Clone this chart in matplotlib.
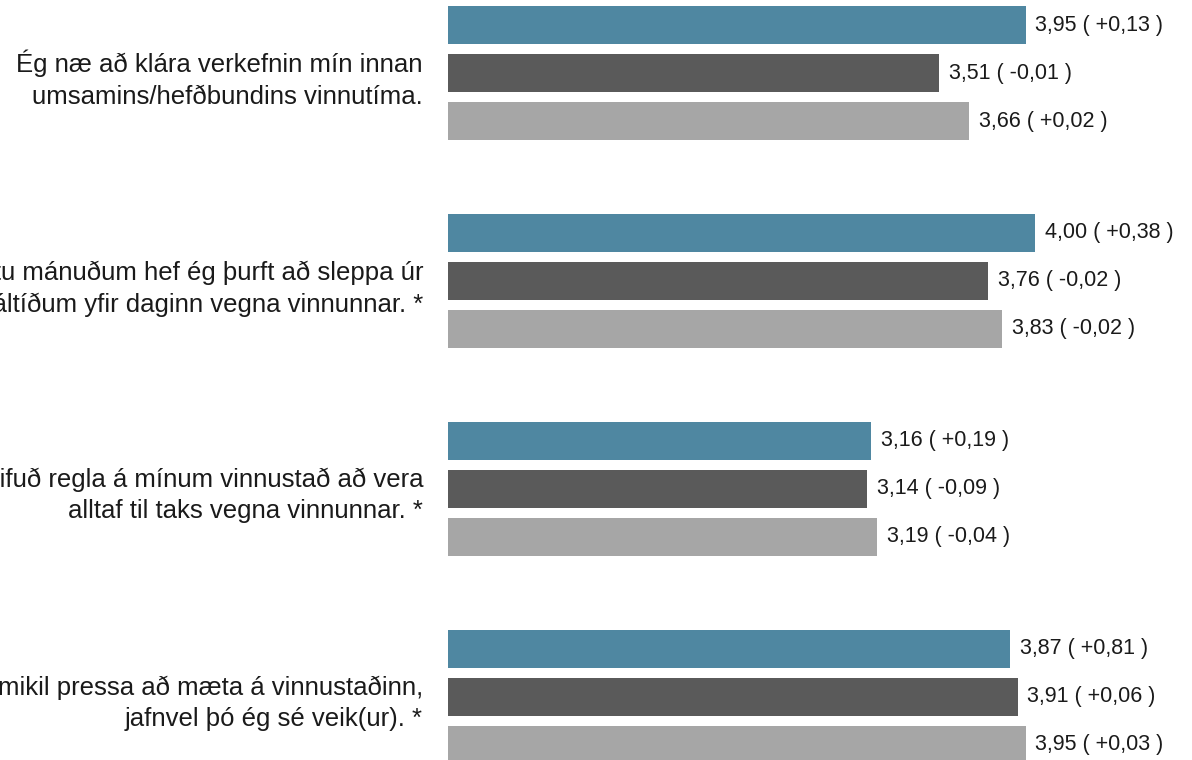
import numpy as np
import matplotlib
matplotlib.use('Agg')
import matplotlib.pyplot as plt

plt.rcParams['font.family'] = ['Liberation Sans', 'DejaVu Sans']

# questions (left part is cut off in the original picture)
questions = [
    'Ég næ að klára verkefnin mín innan\numsamins/hefðbundins vinnutíma.',
    'Á síðustu mánuðum hef ég þurft að sleppa úr\nmáltíðum yfir daginn vegna vinnunnar. *',
    'Það er óskrifuð regla á mínum vinnustað að vera\nalltaf til taks vegna vinnunnar. *',
    'Það er mikil pressa að mæta á vinnustaðinn,\njafnvel þó ég sé veik(ur). *',
]

# three series per question: mean and change from last survey
series_a = [3.95, 4.00, 3.16, 3.87]
series_b = [3.51, 3.76, 3.14, 3.91]
series_c = [3.66, 3.83, 3.19, 3.95]
change_a = ['+0,13', '+0,38', '+0,19', '+0,81']
change_b = ['-0,01', '-0,02', '-0,09', '+0,06']
change_c = ['+0,02', '-0,02', '-0,04', '+0,03']

colors = ['#4f87a1', '#5a5a5a', '#a6a6a6']

fig = plt.figure(figsize=(11.92, 7.60), dpi=100)
ax = fig.add_axes([448 / 1192, 0, 1 - 448 / 1192, 1])

y = np.arange(len(questions))
bar_h = 38 / 208
step = 48 / 208

all_vals = [series_a, series_b, series_c]
all_chg = [change_a, change_b, change_c]
for k in range(3):
    pos = y + (k - 1) * step
    ax.barh(pos, np.array(all_vals[k]) - 1, left=1, height=bar_h,
            color=colors[k], edgecolor='none')
    for p, v, c in zip(pos, all_vals[k], all_chg[k]):
        txt = f'{v:.2f}'.replace('.', ',') + f' ( {c} )'
        ax.annotate(txt, (v, p), xytext=(7, 0), textcoords='offset points',
                    va='center', ha='left', fontsize=15.5, color='#1a1a1a')

ax.set_xlim(1, 4.80)
ax.set_ylim(3.303, -0.351)
ax.set_yticks(y)
ax.set_yticklabels(questions, fontsize=18.5, color='#1a1a1a', linespacing=1.4)
ax.tick_params(axis='y', length=0, pad=18)
ax.set_xticks([])
for s in ax.spines.values():
    s.set_visible(False)

plt.savefig('out.png', dpi=100)
